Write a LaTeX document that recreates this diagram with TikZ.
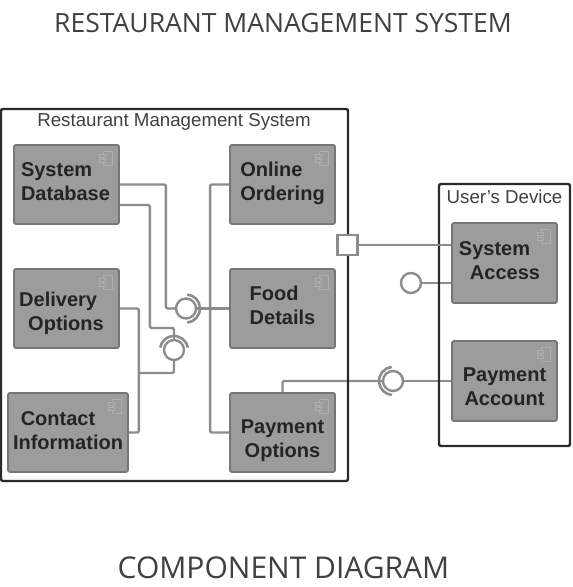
\documentclass[tikz,border=0pt]{standalone}
\usepackage{fontspec}
\setmainfont{Liberation Sans}
\newfontfamily\titlefont{Open Sans}
\usetikzlibrary{positioning,calc}
\definecolor{boxgray}{HTML}{9C9C9C}
\definecolor{edgegray}{HTML}{767676}
\definecolor{wiregray}{HTML}{8C8C8C}
\definecolor{icongray}{HTML}{AEAEAE}
\definecolor{framegray}{HTML}{2A2A2A}
\definecolor{textgray}{HTML}{242424}
\tikzset{
  compbox/.style={draw=edgegray,fill=boxgray,line width=1.8pt,rounded corners=2pt,minimum height=79pt,minimum width=105pt,inner sep=0pt},
  complabel/.style={font=\bfseries\fontsize{20}{24}\selectfont,text=textgray,inner sep=0pt,align=left},
  frametitle/.style={font=\fontsize{18.7}{22}\selectfont,text=black!75,inner sep=0pt},
  framebox/.style={draw=framegray,line width=2.4pt,rounded corners=2pt},
  wire/.style={draw=wiregray,line width=2.4pt,rounded corners=2pt},
  ball/.style={circle,draw=wiregray,fill=white,line width=2.4pt,minimum size=20pt,inner sep=0pt},
  socket/.style={draw=wiregray,line width=2.6pt},
  porthole/.style={draw=wiregray,fill=white,line width=2.4pt,minimum size=20pt,inner sep=0pt},
  bigtitle/.style={font=\titlefont\fontsize{26.5}{30}\selectfont,text=black!75,inner sep=0pt},
}
% little component mark in the corner of a box
\newcommand{\compicon}[1]{
  \draw[icongray,line width=1pt] ($(#1.north east)+(-16,-7)$) rectangle ++(9,-14);
  \draw[icongray,line width=1pt,fill=boxgray] ($(#1.north east)+(-20,-10)$) rectangle ++(6,-3);
  \draw[icongray,line width=1pt,fill=boxgray] ($(#1.north east)+(-20,-15)$) rectangle ++(6,-3);
}
\begin{document}
\begin{tikzpicture}[x=1pt,y=1pt]
  \useasboundingbox (0,0) rectangle (573,587);

  % titles
  \node[bigtitle] (maintitle) at (283,564) {RESTAURANT MANAGEMENT SYSTEM};
  \node[bigtitle,font=\titlefont\fontsize{30}{34}\selectfont] (subtitle) at (283.5,19) {COMPONENT DIAGRAM};

  % components on the left
  \node[compbox] (sysdb) at (66.5,402.5) {};
  \node[compbox] (delivery) at (66.5,278.5) {};
  \node[compbox,minimum width=120pt] (contact) at (68,154.5) {};
  % components on the right
  \node[compbox] (online) at (282.5,402.5) {};
  \node[compbox] (food) at (282.5,278.5) {};
  \node[compbox] (payopt) at (282.5,154.5) {};
  % components in the device
  \node[compbox,minimum height=80pt] (sysacc) at (504.5,324) {};
  \node[compbox,minimum height=80pt] (payacc) at (504.5,206) {};

  \foreach \comp in {sysdb,delivery,contact,online,food,payopt,sysacc,payacc}{
    \compicon{\comp}
  }

  % labels
  \node[complabel,xshift=-1pt,yshift=3pt] (sysdbtext) at (sysdb) {System\\Database};
  \node[complabel,xshift=-5pt,yshift=-5pt] (deliverytext) at (delivery) {Delivery\\\hspace*{9pt}Options};
  \node[complabel,align=center,yshift=2pt] (contacttext) at (contact) {\hspace*{-20pt}Contact\\Information};
  \node[complabel,yshift=1pt] (onlinetext) at (online) {Online\\Ordering};
  \node[complabel,yshift=3pt] (foodtext) at (food) {Food\\Details};
  \node[complabel,align=center,yshift=-8pt] (payopttext) at (payopt) {Payment\\Options};
  \node[complabel,xshift=-5pt,yshift=2pt] (sysacctext) at (sysacc) {System\\\hspace*{11pt}Access};
  \node[complabel,align=center,yshift=-6pt] (payacctext) at (payacc) {Payment\\Account};

  % interface circles
  \node[ball] (foodball) at (186,278.5) {};
  \node[ball] (contactball) at (174,237) {};
  \node[ball] (payball) at (393,206) {};
  \node[ball] (accessball) at (411,304) {};
  \coordinate (joinpt) at (138,214);

  % sockets
  \draw[socket] (foodball.center) ++(-85:14) arc[start angle=-85,end angle=85,radius=14];
  \draw[socket] (contactball.center) ++(10:14) arc[start angle=10,end angle=170,radius=14];
  \draw[socket] (payball.center) ++(95:14) arc[start angle=95,end angle=265,radius=14];

  % connectors
  \draw[wire] (sysdb.east) -- ++(46,0) |- (foodball);
  \draw[wire] (food.west) -- (foodball);
  \draw[wire] ([yshift=-20.5pt]sysdb.east) -- ++(30,0) |- ([yshift=22pt]contactball.center) -- (contactball);
  \draw[wire] (contactball) |- (joinpt);
  \draw[wire] (delivery.east) -- ++(19,0) |- (contact.east);
  \draw[wire] (online.west) -- ++(-19,0) |- (payopt.west);
  \draw[wire] (payopt.north) |- (payball);
  \draw[wire] (payacc.west) -- (payball);
  \draw[wire] ([yshift=-20pt]sysacc.west) -- (accessball);

  % frames
  \draw[framebox] (1,106) rectangle (348,478);
  \draw[framebox] (439,141) rectangle (570,403);
  \node[frametitle] (systemtitle) at (174,465.5) {Restaurant Management System};
  \node[frametitle] (devicetitle) at (504.5,390) {User's Device};

  % port on the frame
  \node[porthole] (port) at (347.5,342) {};
  \draw[wire] (port) -- ([yshift=18pt]sysacc.west);
\end{tikzpicture}
\end{document}
